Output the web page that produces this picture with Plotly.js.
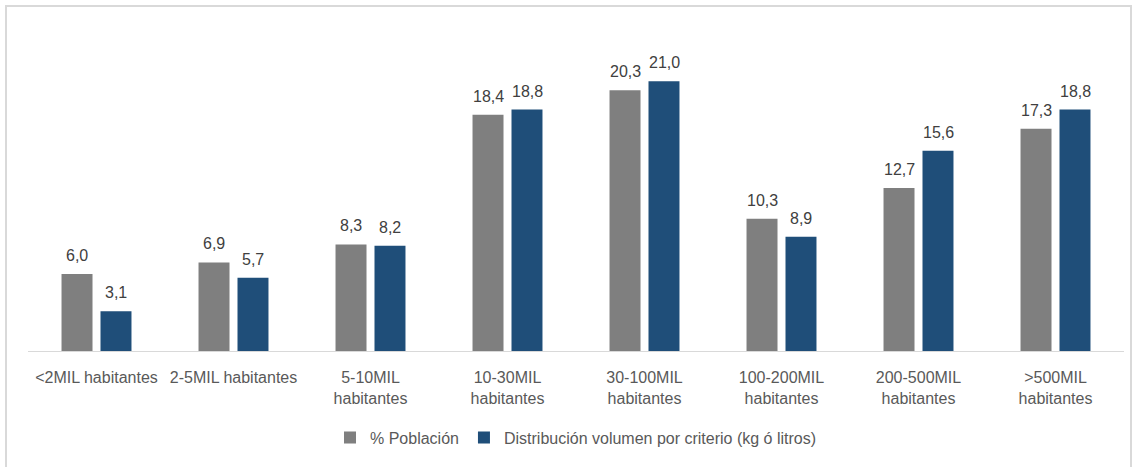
<!DOCTYPE html>
<html>
<head>
<meta charset="utf-8">
<script src="https://cdn.plot.ly/plotly-3.0.1.min.js"></script>
<style>
html,body{margin:0;padding:0;background:#fff;}
#chart{width:1134px;height:467px;}
#frame{position:absolute;left:5px;top:5px;width:1127px;height:470px;border:2px solid #d9d9d9;pointer-events:none;box-sizing:border-box;}
</style>
</head>
<body>
<div id="chart"></div>
<div id="frame"></div>
<script>
const categories = ["<2MIL habitantes", "2-5MIL habitantes", "5-10MIL<br>habitantes", "10-30MIL<br>habitantes", "30-100MIL<br>habitantes", "100-200MIL<br>habitantes", "200-500MIL<br>habitantes", ">500MIL<br>habitantes"];
const poblacion = [6.0, 6.9, 8.3, 18.4, 20.3, 10.3, 12.7, 17.3];
const distribucion = [3.1, 5.7, 8.2, 18.8, 21.0, 8.9, 15.6, 18.8];
const seriesNames = ["% Población", "Distribución volumen por criterio (kg ó litros)"];

const fmt = v => v.toFixed(1).replace('.', ',');
const font = "Liberation Sans Narrow, Liberation Sans, Arial, sans-serif";

const traces = [
  {type:'bar', name: seriesNames[0], x: categories, y: poblacion,
   marker:{color:'#7f7f7f'}, hoverinfo:'none'},
  {type:'bar', name: seriesNames[1], x: categories, y: distribucion,
   marker:{color:'#1f4e79'}, hoverinfo:'none'}
];

const annotations = [];
[poblacion, distribucion].forEach((vals, si) => {
  vals.forEach((v, i) => {
    annotations.push({x: categories[i], y: v, xref:'x', yref:'y', text: fmt(v),
      showarrow:false, xanchor:'center', yanchor:'bottom', xshift: si === 0 ? -19.5 : 19.5, yshift: 8,
      font:{size:16, color:'#404040', family:font}});
  });
});

const layout = {
  width:1134, height:467,
  margin:{l:28, r:10, t:30, b:116},
  paper_bgcolor:'#fff', plot_bgcolor:'#fff',
  barmode:'group', bargap:0.431, bargroupgap:0.205,
  font:{family:font, color:'#595959', size:16},
  xaxis:{showline:true, linecolor:'#d9d9d9', linewidth:1, showgrid:false, zeroline:false,
         ticks:'', tickfont:{size:16, color:'#595959', family:font}, ticklabelstandoff:12, fixedrange:true},
  yaxis:{range:[0,25], visible:false, showgrid:false, zeroline:false, fixedrange:true},
  showlegend:true,
  annotations: annotations,
  legend:{orientation:'h', x:0.5, xanchor:'center', y:-0.27, yanchor:'middle',
          font:{size:16, color:'#595959', family:font}, traceorder:'normal', itemwidth:30}
};

Plotly.newPlot('chart', traces, layout, {displayModeBar:false, staticPlot:true});
</script>
</body>
</html>
